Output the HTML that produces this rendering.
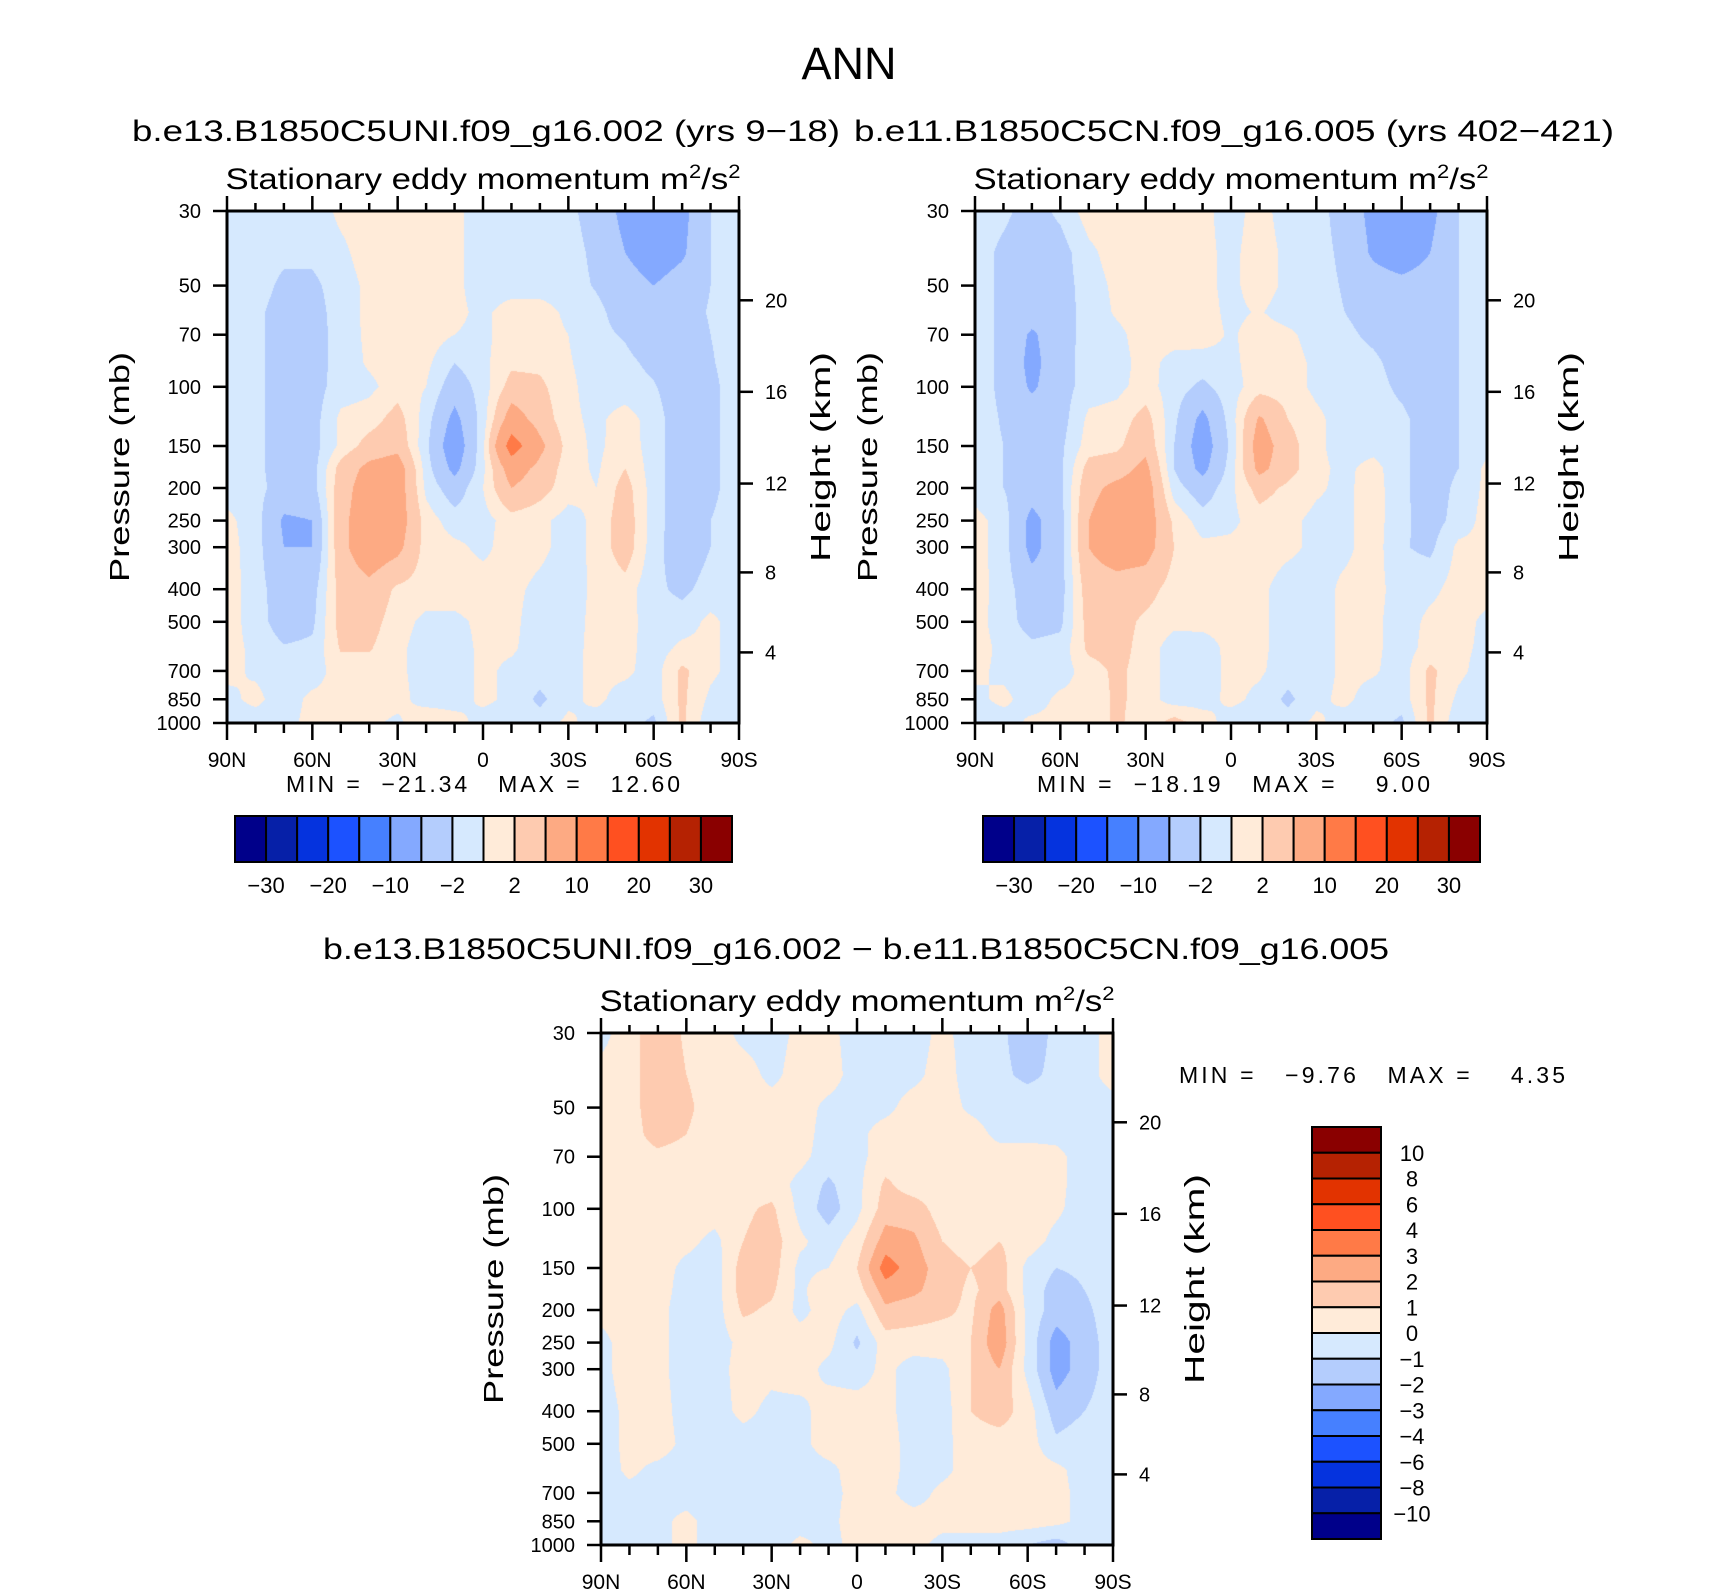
<!DOCTYPE html>
<html><head><meta charset="utf-8"><style>
html,body{margin:0;padding:0;background:#fff;}
#wrap{position:relative;width:1710px;height:1591px;overflow:hidden;background:#fff;}
canvas{position:absolute;}
svg{position:absolute;left:0;top:0;}
text{font-family:"Liberation Sans",sans-serif;fill:#000;}
</style></head><body>
<div id="wrap">
<canvas id="c1" width="512" height="512" style="left:227px;top:211px"></canvas>
<canvas id="c2" width="512" height="512" style="left:975px;top:211px"></canvas>
<canvas id="c3" width="512" height="512" style="left:601px;top:1033px"></canvas>
<svg id="svg" width="1710" height="1591" viewBox="0 0 1710 1591" xmlns="http://www.w3.org/2000/svg">
<text x="849" y="79" font-size="45" text-anchor="middle">ANN</text>
<text x="132" y="141" font-size="30" textLength="708" lengthAdjust="spacingAndGlyphs">b.e13.B1850C5UNI.f09_g16.002 (yrs 9−18)</text>
<text x="854" y="141" font-size="30" textLength="760" lengthAdjust="spacingAndGlyphs">b.e11.B1850C5CN.f09_g16.005 (yrs 402−421)</text>
<text x="323" y="959" font-size="30" textLength="1066" lengthAdjust="spacingAndGlyphs">b.e13.B1850C5UNI.f09_g16.002 − b.e11.B1850C5CN.f09_g16.005</text>
<text x="1179" y="1083" font-size="23" textLength="386" lengthAdjust="spacing" xml:space="preserve">MIN =   −9.76   MAX =    4.35</text>
<text x="286" y="792" font-size="23" textLength="394" lengthAdjust="spacing" xml:space="preserve">MIN =  −21.34   MAX =   12.60</text>
<text x="1037" y="792" font-size="23" textLength="393" lengthAdjust="spacing" xml:space="preserve">MIN =  −18.19   MAX =    9.00</text>
<g id="axes"></g>
</svg>
</div>
<script>
const lats=[90,80,70,60,50,40,30,20,10,0,-10,-20,-30,-40,-50,-60,-70,-80,-90];
const plevs=[30,40,50,60,70,85,100,125,150,175,200,250,300,400,500,600,700,850,1000];
const levelsTop=[-30,-25,-20,-15,-10,-5,-2,0,2,5,10,15,20,25,30];
const levelsDiff=[-10,-8,-6,-4,-3,-2,-1,0,1,2,3,4,6,8,10];
const colors=["#00008a","#0620a8","#0533de","#1c52ff","#4680ff","#84a9ff","#b4cdfd","#d6e9fe","#ffebd9","#fecbb0","#fdaa83","#ff7a47","#ff5020","#e23300","#b52202","#8a0000"];
const topLabels=["−30","−20","−10","−2","2","10","20","30"];
const diffLabels=["10","8","6","4","3","2","1","0","−1","−2","−3","−4","−6","−8","−10"];
const pTicks=[30,50,70,100,150,200,250,300,400,500,700,850,1000];
const hTicks=[20,16,12,8,4];
const hTickP=[55.3,103.5,194,356.5,616.6];
const latTicks=[90,60,30,0,-30,-60,-90];
const latTickLabels=["90N","60N","30N","0","30S","60S","90S"];

const fieldUni=[
[-0.5,-1,-1,-1.2,0.5,1,1,1,0.5,-1,-0.5,-1,-1.5,-3,-6,-8,-6,-2,-1],
[-0.5,-1,-1.5,-1.5,-0.5,1,1,1,0.5,-1,-1,-1,-1.2,-2.5,-5,-7,-5.5,-2,-1],
[-0.5,-1,-2.5,-2.5,-1,0.5,1,1,0.5,-1,-1,-1,-1.2,-2.2,-3.5,-5,-3.5,-2,-1],
[-0.8,-1.5,-3,-3,-1,0.5,1,1,0.5,-0.5,1,1,-0.5,-1.5,-3,-3.5,-3,-1.8,-1],
[-0.8,-1.5,-3,-3,-1.2,0.5,1,1,0,-0.5,1,1,0,-1.5,-2.2,-3.5,-3.5,-2,-1],
[-0.8,-1.5,-3,-3,-1.2,0.3,1,0.5,-2,-0.5,1.5,1.5,0.2,-1,-1.5,-2.5,-3.5,-2.2,-1],
[-0.8,-1.5,-3,-3,-1,-0.5,1,0,-3.5,-1,3,2.5,0.5,-1,-1.2,-1.8,-3.5,-2.5,-1],
[-0.8,-1.5,-3,-3,0.5,1,3,-1,-6,-1,7,3.5,0.5,-0.5,1,-1,-3.5,-2.5,-1],
[-0.8,-1.5,-3,-3,0.5,3,4,-1.5,-7.5,-0.5,12.5,6,1,-0.5,1.2,-1,-3.5,-2.5,-1],
[-0.8,-1.5,-3,-3,3,6,7,-1,-6,-0.5,7,4,0.8,-0.3,2,-1,-3.5,-2.5,-1],
[-0.8,-1.3,-3,-3,3.5,7,7,-0.5,-3.5,0,5,3,0.8,0,3,-1,-3.5,-2.5,-1],
[0.5,-1,-5.5,-5,4,7.5,7,1,-1,-0.8,1,0.5,-0.8,0.5,3.5,-1,-3.5,-2,-1],
[0.8,-1,-5,-5,4,7.5,6,1,0.5,-0.5,1,0.5,-0.8,0.5,3.5,-1.2,-3.5,-2,-1],
[1,-1,-3.5,-3,3,4,1.5,1,1,1,0.5,-0.5,-1,0.5,1,-1.5,-2.5,-1.2,-1],
[1,-1,-3.2,-2.5,3,3,0.8,-0.5,-0.5,0.5,0.5,-1,-1,0.7,0.8,-1,-1,0.5,-1],
[0.8,-0.5,-1.8,-1.5,2.2,2.2,0.5,-1,-1,0.5,0.3,-1,-0.8,0.7,0.7,-1,0.5,0.5,-1],
[0.5,-0.3,-1,-1,1,1,0.5,-1,-1,0.5,-0.5,-1,-0.5,0.5,0.5,-1,2.5,0.5,-1],
[-0.5,0.5,-1,0.5,0.5,1,0.8,-1,-1,0.5,-0.5,-2.5,-0.5,0.5,-1,-1,2.5,-0.5,-1.5],
[-1,-1,-0.5,0.5,0.5,0.5,-0.5,2,1,-1,-1,-1,0.5,-1,-1,-2.5,2.5,-1.5,-2]];

const fieldCN=[
[-1,-1.5,-3,-1.5,1,1,1,1,0.5,-0.8,0.8,-1,-1.2,-3,-6,-7.5,-6,-2,-1],
[-1,-2.5,-3.5,-3,-0.5,1,1,1,0.5,-0.5,1,-0.5,-1.2,-2.5,-5.5,-7,-5,-2,-1],
[-1,-2.5,-3.5,-3,-1,0.5,1,1,0.5,-0.5,1,-0.5,-1.2,-2.2,-3.5,-4,-3.5,-2,-1],
[-1,-2.5,-3.5,-3,-1.2,0.3,1,1,0.8,-0.5,0.2,-1,-1.2,-2,-3,-3.5,-3.5,-2,-1],
[-1,-2.5,-5.5,-3,-1.2,-0.5,1,1,1,-0.3,1,0.5,-1,-1.5,-2.5,-3.5,-3.5,-2,-1],
[-1,-2.5,-6,-3,-1,-0.8,0.8,-0.8,-1,-0.5,1,1,-0.5,-1,-1.5,-3,-3.5,-2,-1],
[-1,-2.5,-5.5,-3,-1,-0.5,0.8,-1,-2.5,-0.8,1,1,-0.5,-1,-1.2,-2.5,-3.5,-2,-1],
[-1,-2.2,-3.2,-3,0.5,0.8,3,-1.5,-6,-1,5.5,2,0.5,-1,-1,-1.5,-3.2,-2,-0.8],
[-1,-2,-3,-2.5,1,1.5,4,-2,-7,-1.5,7,3,0.5,-1,-0.8,-1.5,-3.2,-2,-0.5],
[-1,-2,-3,-2.5,3,3.5,6,-2,-6,-1,6,3,0.5,-0.5,0.8,-1.5,-3.2,-2,0.5],
[-1,-2,-3.5,-2.5,4,6,7,-1,-3.5,-0.5,3,1.5,0.3,-0.5,1,-1.5,-3.2,-1.5,0.5],
[0.8,-1,-6,-3,5,7.5,7,1.5,-1,-0.5,1,0.5,-0.5,-0.5,1,-1.5,-3,-1.2,0.8],
[0.8,-1,-6,-3,5,7,6.5,2,0.5,0.5,1,0.5,-0.5,-0.5,1,-1.8,-2.5,0.5,0.5],
[1,-1,-3.5,-3,3.5,3.5,3,1,0.8,0.5,0.5,-1,-1,0.5,0.8,-1,-0.5,0.8,0.8],
[0.8,-1,-3,-2.5,3,3,1.5,0.5,0.5,0.5,0.5,-1,-1,0.5,0.5,-1,0.5,0.8,-0.5],
[0.8,-0.5,-1.5,-1.2,2.5,3,1,-1,-0.8,0.5,0.5,-1,-1,0.5,0.5,-1,0.8,0.5,-0.5],
[0.5,-0.5,-1,-1,1,2.5,1,-1,-1,0.5,0.3,-1,-1,0.5,0.3,-1,2.5,0.5,-1],
[-0.5,0.5,-1,0.5,0.5,2.5,1,-1,-0.8,0.5,-0.5,-2.5,-0.5,0.5,-1,-1,2.5,-0.5,-1.5],
[-1,-1,0.5,0.5,0.5,2.5,0.5,3,1,-1,-1,-1,0.5,-1,-1,-2.5,2.5,-1.5,-2]];

const fieldDiff=[
[-0.3,0.5,1.8,0.8,0.5,-0.3,-0.5,0.3,0.3,-0.5,-0.5,-0.5,0.3,-0.5,-0.8,-1.5,-0.8,-0.3,0.3],
[0.3,0.5,1.8,1,0.5,0.5,-0.3,0.5,0.5,-0.5,-0.5,-0.3,0.5,-0.5,-0.8,-1.2,-0.8,-0.3,0.3],
[0.3,0.5,1.8,1.2,0.5,0.5,0.5,0.5,-0.3,-0.5,-0.3,0.5,0.5,-0.2,-0.5,-0.5,-0.5,-0.3,-0.3],
[0.3,0.5,1.5,1,0.5,0.5,0.5,0.5,-0.5,-0.3,0.5,0.5,0.5,0.5,-0.3,-0.3,-0.3,-0.5,-0.5],
[0.3,0.5,0.7,0.5,0.5,0.5,0.5,0.3,-0.5,-0.3,0.5,0.5,0.5,0.5,0.5,0.5,0.3,-0.5,-0.5],
[0.3,0.5,0.5,0.5,0.5,0.5,0.5,-0.3,-1.2,-0.3,1.2,0.5,0.5,0.5,0.5,0.5,0.3,-0.5,-0.5],
[0.3,0.5,0.5,0.5,0.5,0.8,1.2,-0.3,-1.5,-0.3,1.5,1.5,0.5,0.5,0.5,0.5,0.2,-0.5,-0.5],
[0.3,0.5,0.5,0.3,-0.3,1,1.5,0.2,-0.5,0.5,2.5,2.2,1,0.5,1,0.5,-0.3,-0.5,-0.5],
[0.3,0.5,0.5,-0.3,-0.5,1.5,1.5,-0.3,0,1,3.5,2.5,1.5,1,1.5,-0.3,-1,-0.8,-0.5],
[0.3,0.5,0.5,-0.5,-0.5,1.5,1.2,-0.3,1,0.5,2.5,2.2,1.5,0.8,1.5,-0.3,-1.5,-1,-0.5],
[0.3,0.5,0.3,-0.5,-0.5,1.2,0.8,-0.3,0.5,-0.3,1.8,1.5,1.2,0.8,2.5,-0.3,-1.5,-1.2,-0.5],
[-0.3,0.5,0.3,-0.5,-0.5,0.3,0.5,0.5,0.3,-1.2,0.5,0.5,0.5,1,2.8,-0.3,-2.5,-1.5,-0.5],
[-0.3,0.5,0.3,-0.5,-0.5,0.5,0.3,0.5,-0.3,-0.5,0.3,-0.5,-0.3,1,2,-0.3,-2.5,-1.5,-0.5],
[-0.5,0.3,0.5,-0.5,-0.5,0.3,-0.3,-0.3,0.5,0.5,0.3,-0.5,-0.5,1,1.5,0.5,-1.5,-1,-0.5],
[-0.5,0.3,0.5,-0.3,-0.5,-0.5,-0.5,-0.3,0.5,0.3,0.5,-0.5,-0.3,0.5,0.5,0.5,-0.8,-0.5,-0.5],
[-0.5,0.2,-0.3,-0.5,-0.5,-0.5,-0.5,-0.5,-0.3,0.5,0.5,-0.5,-0.3,0.5,0.5,0.5,0.3,-0.5,-0.5],
[-0.5,-0.3,-0.3,-0.5,-0.5,-0.5,-0.5,-0.5,-0.3,0.3,0.3,-0.5,0.3,0.5,0.5,0.5,0.3,-0.3,-0.5],
[-0.3,-0.3,-0.3,0.3,-0.5,-0.5,-0.5,-0.5,-0.3,0.5,0.5,0.5,0.3,0.5,0.5,0.5,0.3,-0.3,-0.5],
[-0.5,-0.5,-0.3,0.3,-0.5,-0.5,-0.5,0.3,-0.3,0.3,0.5,0.3,-0.3,-0.5,-0.5,-1,-1.5,-0.5,-0.5]];

const LOGR=Math.log(1000/30);
function pFrac(p){return Math.log(p/30)/LOGR;}
const rowF=plevs.map(pFrac);

function sample(field,u,f){
  let i=Math.min(Math.floor(u),lats.length-2);const s=u-i;
  let j=0;while(j<rowF.length-2&&f>rowF[j+1])j++;
  const t=Math.max(0,Math.min(1,(f-rowF[j])/(rowF[j+1]-rowF[j])));
  const a=field[j][i],b=field[j][i+1],c=field[j+1][i],d=field[j+1][i+1];
  return (a*(1-s)+b*s)*(1-t)+(c*(1-s)+d*s)*t;
}
function colorFor(v,levels){let k=0;while(k<levels.length&&v>=levels[k])k++;return colors[k];}
function hexRGB(h){return [parseInt(h.substr(1,2),16),parseInt(h.substr(3,2),16),parseInt(h.substr(5,2),16)];}
function drawField(id,field,levels){
  const cv=document.getElementById(id),ctx=cv.getContext('2d');
  const W=cv.width,H=cv.height,img=ctx.createImageData(W,H);
  for(let y=0;y<H;y++){const f=(y+0.5)/H;
    for(let x=0;x<W;x++){const u=(x+0.5)/W*(lats.length-1);
      const rgb=hexRGB(colorFor(sample(field,u,f),levels));const o=(y*W+x)*4;
      img.data[o]=rgb[0];img.data[o+1]=rgb[1];img.data[o+2]=rgb[2];img.data[o+3]=255;}}
  ctx.putImageData(img,0,0);
}
drawField('c1',fieldUni,levelsTop);
drawField('c2',fieldCN,levelsTop);
drawField('c3',fieldDiff,levelsDiff);

const NS="http://www.w3.org/2000/svg";
const axes=document.getElementById('axes');
function mk(tag,attrs,parent){const e=document.createElementNS(NS,tag);for(const k in attrs)e.setAttribute(k,attrs[k]);(parent||axes).appendChild(e);return e;}

function drawPanel(key,x0,y0,W,H){
  const g=mk('g',{});
  
  
  const xs=lat=>x0+(90-lat)/180*W;
  const ys=p=>y0+pFrac(p)*H;
  const t=mk('text',{x:x0+W/2,y:y0-22,'font-size':30,'text-anchor':'middle',textLength:515,lengthAdjust:'spacingAndGlyphs'},g);
  
  
  t.innerHTML='Stationary eddy momentum  m<tspan font-size="19" dy="-11">2</tspan><tspan dy="11">/s</tspan><tspan font-size="19" dy="-11">2</tspan>';
  for(let lat=90;lat>=-90;lat-=10){
    const major=lat%30===0;const x=xs(lat);
    const tb=mk('line',{x1:x,x2:x,y1:y0+H,y2:y0+H+(major?17:10),stroke:'#000','stroke-width':2.5},g);
    
    
    const tt=mk('line',{x1:x,x2:x,y1:y0,y2:y0-(major?15:8),stroke:'#000','stroke-width':2.5},g);
    
    
  }
  latTicks.forEach((lat,i)=>{
    const l=mk('text',{x:xs(lat),y:y0+H+44,'font-size':21,'text-anchor':'middle'},g);
    
    
    l.textContent=latTickLabels[i];
  });
  pTicks.forEach(p=>{
    const y=ys(p);
    const tk=mk('line',{x1:x0-14,x2:x0,y1:y,y2:y,stroke:'#000','stroke-width':2.5},g);
    
    
    const l=mk('text',{x:x0-26,y:y+7,'font-size':20,'text-anchor':'end'},g);
    
    
    l.textContent=p;
  });
  hTicks.forEach((h,i)=>{
    const y=ys(hTickP[i]);
    const tk=mk('line',{x1:x0+W,x2:x0+W+14,y1:y,y2:y,stroke:'#000','stroke-width':2.5},g);
    
    
    const l=mk('text',{x:x0+W+26,y:y+7,'font-size':20},g);
    
    
    l.textContent=h;
  });
  const fr=mk('rect',{x:x0,y:y0,width:W,height:H,fill:'none',stroke:'#000','stroke-width':3},g);
  
  
  const cy=y0+H/2;
  const yt=mk('text',{x:0,y:0,'font-size':28,'text-anchor':'middle',textLength:230,lengthAdjust:'spacingAndGlyphs',transform:`translate(${x0-98},${cy}) rotate(-90)`},g);
  
  
  yt.textContent='Pressure  (mb)';
  const ht=mk('text',{x:0,y:0,'font-size':28,'text-anchor':'middle',textLength:210,lengthAdjust:'spacingAndGlyphs',transform:`translate(${x0+W+91},${y0+H/2-10}) rotate(-90)`},g);
  
  
  ht.textContent='Height  (km)';
}
drawPanel('uni',227,211,512,512);
drawPanel('cn',975,211,512,512);
drawPanel('diff',601,1033,512,512);

function hBar(key,x0,y0,W,H){
  const g=mk('g',{});
  
  
  const bw=W/colors.length;
  colors.forEach((c,i)=>{
    const r=mk('rect',{x:x0+i*bw,y:y0,width:bw,height:H,fill:c,stroke:'#000','stroke-width':2},g);
    
    
  });
  topLabels.forEach((s,k)=>{
    const l=mk('text',{x:x0+(2*k+1)*bw,y:y0+H+31,'font-size':22,'text-anchor':'middle'},g);
    
    
    l.textContent=s;
  });
}
hBar('uni',235,816,497,46);
hBar('cn',983,816,497,46);

(function(){
  const x0=1312,y0=1127,W=69,H=412;
  const g=mk('g',{});
  
  
  const bh=H/colors.length;
  colors.slice().reverse().forEach((c,i)=>{
    const r=mk('rect',{x:x0,y:y0+i*bh,width:W,height:bh,fill:c,stroke:'#000','stroke-width':2},g);
    
    
  });
  diffLabels.forEach((s,i)=>{
    const l=mk('text',{x:1412,y:y0+(i+1)*bh+8,'font-size':22,'text-anchor':'middle'},g);
    
    
    l.textContent=s;
  });
})();
</script>
</body></html>
